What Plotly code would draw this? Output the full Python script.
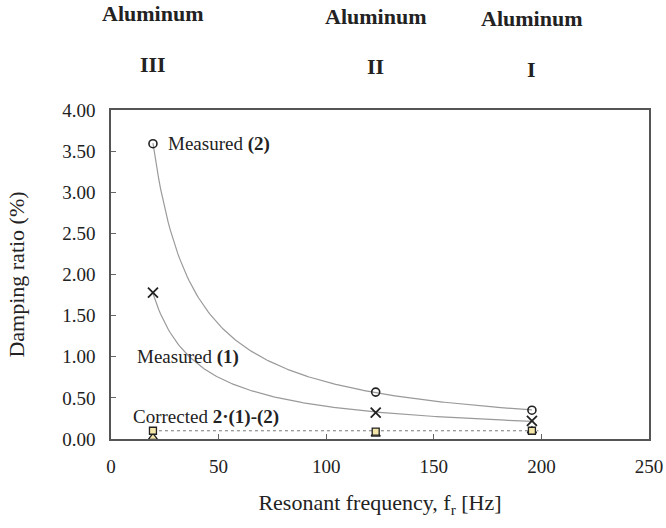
import numpy as np
import plotly.graph_objects as go

freq = [19.5, 123.0, 195.6]
measured_2 = [3.59, 0.57, 0.35]
measured_1 = [1.78, 0.32, 0.22]
corrected_sq = [0.10, 0.09, 0.10]
corrected_tri = [0.02, 0.06, 0.10]
sample_names = ["III", "II", "I"]
x_ticks = [0, 50, 100, 150, 200, 250]
y_ticks = [0, 0.5, 1.0, 1.5, 2.0, 2.5, 3.0, 3.5, 4.0]

FONT = "Liberation Serif, Times New Roman, serif"


def power_trend(xs, ys):
    b, ln_a = np.polyfit(np.log(xs), np.log(ys), 1)
    grid = np.linspace(min(xs), max(xs), 200)
    return grid, np.exp(ln_a) * grid ** b


fig = go.Figure()

for ys in (measured_2, measured_1):
    gx, gy = power_trend(freq, ys)
    fig.add_trace(go.Scatter(x=gx, y=gy, mode="lines",
                             line=dict(color="#9a9a9a", width=1.2),
                             hoverinfo="skip", showlegend=False))

fig.add_trace(go.Scatter(x=[freq[0], freq[-1] + 3], y=[corrected_sq[0], corrected_sq[-1]],
                         mode="lines", line=dict(color="#777", width=1, dash="dot"),
                         showlegend=False, hoverinfo="skip"))

fig.add_trace(go.Scatter(x=freq, y=measured_2, mode="markers",
                         marker=dict(symbol="circle-open", size=8, color="#222",
                                     line=dict(width=1.6)),
                         showlegend=False))
fig.add_trace(go.Scatter(x=freq, y=measured_1, mode="markers",
                         marker=dict(symbol="x-thin-open", size=10, color="#222",
                                     line=dict(width=1.8, color="#222")),
                         showlegend=False))
fig.add_trace(go.Scatter(x=freq, y=corrected_tri, mode="markers",
                         marker=dict(symbol="triangle-up", size=8, color="#f3e6a8",
                                     line=dict(width=1.3, color="#222")),
                         showlegend=False))
fig.add_trace(go.Scatter(x=freq, y=corrected_sq, mode="markers",
                         marker=dict(symbol="square", size=7, color="#f3e6a8",
                                     line=dict(width=1.3, color="#222")),
                         showlegend=False))

annotations = [
    dict(x=freq[0], y=measured_2[0], xref="x", yref="y", text="Measured <b>(2)</b>",
         showarrow=False, xanchor="left", yanchor="middle", xshift=13, font=dict(size=19)),
    dict(x=35.8, y=1.0, xref="x", yref="y", text="Measured <b>(1)</b>",
         showarrow=False, xanchor="center", yanchor="middle", font=dict(size=19)),
    dict(x=44, y=0.27, xref="x", yref="y", text="Corrected <b>2·(1)-(2)</b>",
         showarrow=False, xanchor="center", yanchor="middle", font=dict(size=19)),
]
alu_y = [1.2918, 1.2827, 1.2796]
num_y = [1.1368, 1.1307, 1.1216]
for fx, name, ay, ny in zip(freq, sample_names, alu_y, num_y):
    annotations.append(dict(x=fx, y=ay, xref="x", yref="paper", text="<b>Aluminum</b>",
                            showarrow=False, xanchor="center", yanchor="middle",
                            font=dict(size=22)))
    annotations.append(dict(x=fx, y=ny, xref="x", yref="paper", text="<b>" + name + "</b>",
                            showarrow=False, xanchor="center", yanchor="middle",
                            font=dict(size=22)))

fig.update_layout(
    width=666, height=528,
    margin=dict(l=111, r=17, t=110, b=89),
    paper_bgcolor="white", plot_bgcolor="white",
    font=dict(family=FONT, size=19, color="#222"),
    annotations=annotations,
    xaxis=dict(range=[0, 250], tickvals=x_ticks, ticks="inside", ticklen=5,
               tickcolor="#666", showline=True, linecolor="#555", linewidth=1.5,
               mirror=True, showgrid=False, zeroline=False, automargin=False,
               ticklabelstandoff=9,
               title=dict(text="Resonant frequency, f<sub>r</sub> [Hz]", standoff=19,
                          font=dict(size=22)),
               tickfont=dict(size=19)),
    yaxis=dict(range=[0, 4], tickvals=y_ticks, tickformat=".2f", ticks="inside",
               ticklen=5, tickcolor="#666", showline=True, linecolor="#555",
               linewidth=1.5, mirror=True, showgrid=False, zeroline=False,
               automargin=False, ticklabelstandoff=10,
               title=dict(text="Damping ratio (%)", standoff=32, font=dict(size=22)),
               tickfont=dict(size=19)),
)

fig.write_html(
    "out.html",
    config={"displayModeBar": False},
    post_script="document.body.style.margin='0';document.body.style.overflow='hidden';",
)
